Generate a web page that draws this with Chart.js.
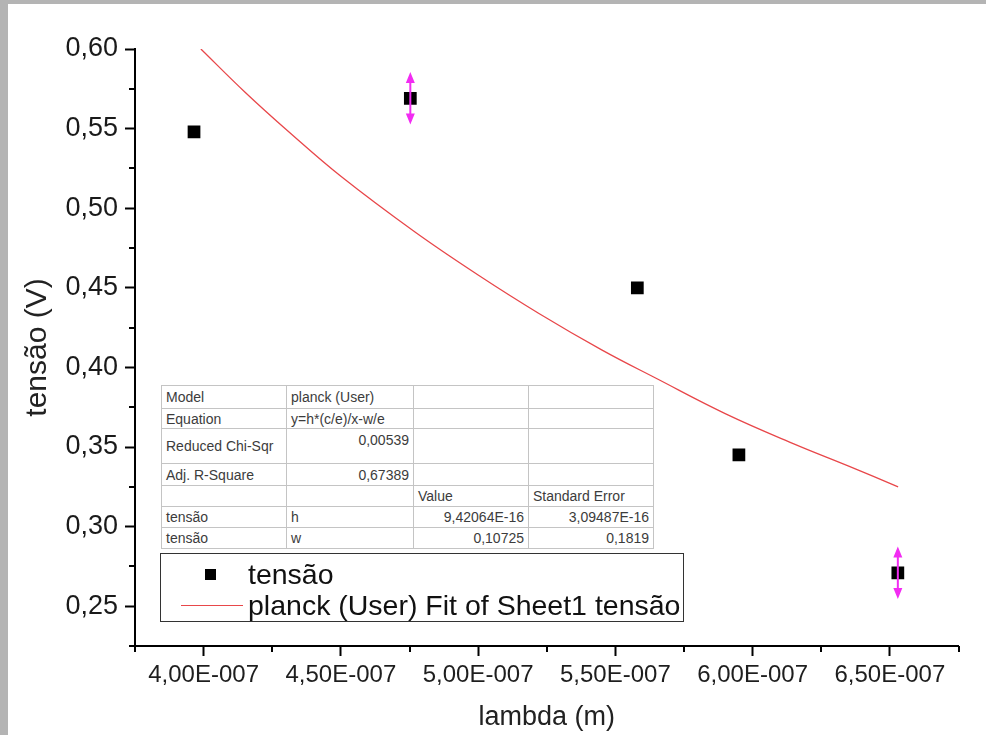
<!DOCTYPE html>
<html>
<head>
<meta charset="utf-8">
<script src="https://cdn.jsdelivr.net/npm/chart.js@4.4.1/dist/chart.umd.min.js"></script>
<style>
  body { margin: 0; background: #b4b4b4; width: 986px; height: 735px; overflow: hidden; }
  #wrap { position: absolute; left: 8px; top: 4px; width: 978px; height: 731px; background: #fff; }
  #myChart { position: absolute; left: 0; top: 0; }
  #fitTable {
    position: absolute; left: 153px; top: 381px;
    border-collapse: collapse; table-layout: fixed;
    font: 14px 'Liberation Sans', Arial, sans-serif; color: #3c3c3c;
    border: 1.5px solid #555; background: #fff;
  }
  #fitTable td { border: 1px solid #c4c4c4; padding: 0 4px; white-space: nowrap; overflow: hidden; }
  #fitTable td.r { text-align: right; }
  #fitTable td.top { vertical-align: top; padding-top: 3px; }
  #legendBox {
    position: absolute; left: 152px; top: 549px; width: 522px; height: 67px;
    border: 1.5px solid #333; background: #fff;
    font: 28.5px 'Liberation Sans', Arial, sans-serif; color: #111;
  }
  #legendBox .sq { position: absolute; left: 44px; top: 15px; width: 11px; height: 11px; background: #000; }
  #legendBox .ln { position: absolute; left: 20px; top: 51px; width: 62px; height: 0; border-top: 1.3px solid #e8474a; }
  #legendBox .t1 { position: absolute; left: 87px; top: 4px; line-height: 32px; }
  #legendBox .t2 { position: absolute; left: 87px; top: 35px; line-height: 32px; }
</style>
</head>
<body>
<div id="wrap">
  <canvas id="myChart" width="978" height="731"></canvas>

  <table id="fitTable">
    <colgroup><col style="width:125px"><col style="width:127px"><col style="width:115px"><col style="width:125px"></colgroup>
    <tr style="height:23px"><td>Model</td><td>planck (User)</td><td></td><td></td></tr>
    <tr style="height:20px"><td>Equation</td><td>y=h*(c/e)/x-w/e</td><td></td><td></td></tr>
    <tr style="height:35px"><td>Reduced Chi-Sqr</td><td class="r top">0,00539</td><td></td><td></td></tr>
    <tr style="height:22px"><td>Adj. R-Square</td><td class="r">0,67389</td><td></td><td></td></tr>
    <tr style="height:21px"><td></td><td></td><td>Value</td><td>Standard Error</td></tr>
    <tr style="height:21px"><td>tensão</td><td>h</td><td class="r">9,42064E-16</td><td class="r">3,09487E-16</td></tr>
    <tr style="height:21px"><td>tensão</td><td>w</td><td class="r">0,10725</td><td class="r">0,1819</td></tr>
  </table>

  <div id="legendBox">
    <div class="sq"></div><div class="t1">tensão</div>
    <div class="ln"></div><div class="t2">planck (User) Fit of Sheet1 tensão</div>
  </div>
</div>

<script>
// data
const lambda = [3.965e-7, 4.753e-7, 5.580e-7, 5.950e-7, 6.529e-7];
const tensao = [0.548, 0.569, 0.450, 0.345, 0.271];
const tensaoErr = [0, 0.0165, 0, 0, 0.0165];

// fitted curve (planck (User))
const fitLambda = [3.99e-7, 4.15e-7, 4.31e-7, 4.50e-7, 4.77e-7, 5.00e-7, 5.22e-7, 5.45e-7, 5.65e-7, 5.90e-7, 6.15e-7, 6.35e-7, 6.53e-7];
const fitTensao = [0.600, 0.573, 0.548, 0.520, 0.485, 0.458, 0.434, 0.411, 0.393, 0.371, 0.352, 0.338, 0.325];

// ticks
const xTicks = [4.0e-7, 4.5e-7, 5.0e-7, 5.5e-7, 6.0e-7, 6.5e-7];
const xMinor = [3.75e-7, 4.25e-7, 4.75e-7, 5.25e-7, 5.75e-7, 6.25e-7, 6.75e-7];
const yTicks = [0.25, 0.30, 0.35, 0.40, 0.45, 0.50, 0.55, 0.60];
const yMinor = [0.225, 0.275, 0.325, 0.375, 0.425, 0.475, 0.525, 0.575];

const FONT = "'Liberation Sans', Arial, sans-serif";

function sciLabel(v) {
  const parts = v.toExponential(2).split('e');
  const ex = parseInt(parts[1]);
  return parts[0].replace('.', ',') + 'E' + (ex < 0 ? '-' : '') + String(Math.abs(ex)).padStart(3, '0');
}

// minor tick marks, origin style
const minorTicks = {
  id: 'minorTicks',
  afterDraw(chart) {
    const { ctx, scales: { x, y }, chartArea } = chart;
    ctx.save();
    ctx.strokeStyle = '#000';
    ctx.lineWidth = 2;
    ctx.beginPath();
    xMinor.forEach(v => {
      const px = Math.round(x.getPixelForValue(v));
      ctx.moveTo(px, chartArea.bottom);
      ctx.lineTo(px, chartArea.bottom + 6);
    });
    yMinor.forEach(v => {
      const py = Math.round(y.getPixelForValue(v));
      ctx.moveTo(chartArea.left, py);
      ctx.lineTo(chartArea.left - 6, py);
    });
    ctx.stroke();
    ctx.restore();
  }
};

// error bars with arrow heads
const errorBars = {
  id: 'errorBars',
  afterDatasetsDraw(chart) {
    const { ctx, scales: { x, y } } = chart;
    ctx.save();
    ctx.strokeStyle = '#f22cf2';
    ctx.fillStyle = '#f22cf2';
    ctx.lineWidth = 2;
    lambda.forEach((l, i) => {
      const e = tensaoErr[i];
      if (!e) return;
      const px = x.getPixelForValue(l);
      const yTop = y.getPixelForValue(tensao[i] + e);
      const yBot = y.getPixelForValue(tensao[i] - e);
      ctx.beginPath();
      ctx.moveTo(px, yTop + 4);
      ctx.lineTo(px, yBot - 4);
      ctx.stroke();
      // heads
      ctx.beginPath();
      ctx.moveTo(px, yTop);
      ctx.lineTo(px - 4.5, yTop + 11);
      ctx.lineTo(px + 4.5, yTop + 11);
      ctx.closePath();
      ctx.moveTo(px, yBot);
      ctx.lineTo(px - 4.5, yBot - 11);
      ctx.lineTo(px + 4.5, yBot - 11);
      ctx.closePath();
      ctx.fill();
    });
    ctx.restore();
  }
};

// setup
const data = {
  datasets: [
    {
      label: 'tensão',
      data: lambda.map((l, i) => ({ x: l, y: tensao[i] })),
      showLine: false,
      pointStyle: 'rect',
      pointRadius: 9,
      pointBorderWidth: 0,
      backgroundColor: '#000',
      borderColor: '#000'
    },
    {
      label: 'planck (User) Fit of Sheet1 tensão',
      data: fitLambda.map((l, i) => ({ x: l, y: fitTensao[i] })),
      borderColor: '#e8474a',
      borderWidth: 1.3,
      pointRadius: 0,
      tension: 0.4,
      fill: false
    }
  ]
};

// config
const config = {
  type: 'line',
  data,
  options: {
    responsive: false,
    animation: false,
    layout: { padding: { left: 0, right: 27.5, top: 45, bottom: 0 } },
    plugins: {
      legend: { display: false },
      tooltip: { enabled: false }
    },
    scales: {
      x: {
        type: 'linear',
        min: 3.75e-7,
        max: 6.75e-7,
        afterBuildTicks: s => { s.ticks = xTicks.map(v => ({ value: v })); },
        afterFit: s => { s.height = 89; },
        ticks: {
          callback: v => sciLabel(v),
          font: { family: FONT, size: 24 },
          color: '#1e1e1e',
          padding: 5,
          maxRotation: 0
        },
        grid: { drawOnChartArea: false, drawTicks: true, tickLength: 10, tickColor: '#000', tickWidth: 2 },
        border: { display: true, color: '#000', width: 2 },
        title: { display: true, text: 'lambda (m)', font: { family: FONT, size: 27 }, color: '#222', padding: { top: 0, bottom: 1 } }
      },
      y: {
        type: 'linear',
        min: 0.225,
        max: 0.60,
        afterBuildTicks: s => { s.ticks = yTicks.map(v => ({ value: v })); },
        afterFit: s => { s.width = 127; },
        ticks: {
          callback: v => v.toFixed(2).replace('.', ','),
          font: { family: FONT, size: 27 },
          color: '#1a1a1a',
          padding: 7
        },
        grid: { drawOnChartArea: false, drawTicks: true, tickLength: 10, tickColor: '#000', tickWidth: 2 },
        border: { display: true, color: '#000', width: 2 },
        title: { display: true, text: 'tensão (V)', font: { family: FONT, size: 30 }, color: '#222', padding: { top: 12, bottom: 0 } }
      }
    }
  },
  plugins: [minorTicks, errorBars]
};

// render init block
const myChart = new Chart(document.getElementById('myChart'), config);
</script>
</body>
</html>
